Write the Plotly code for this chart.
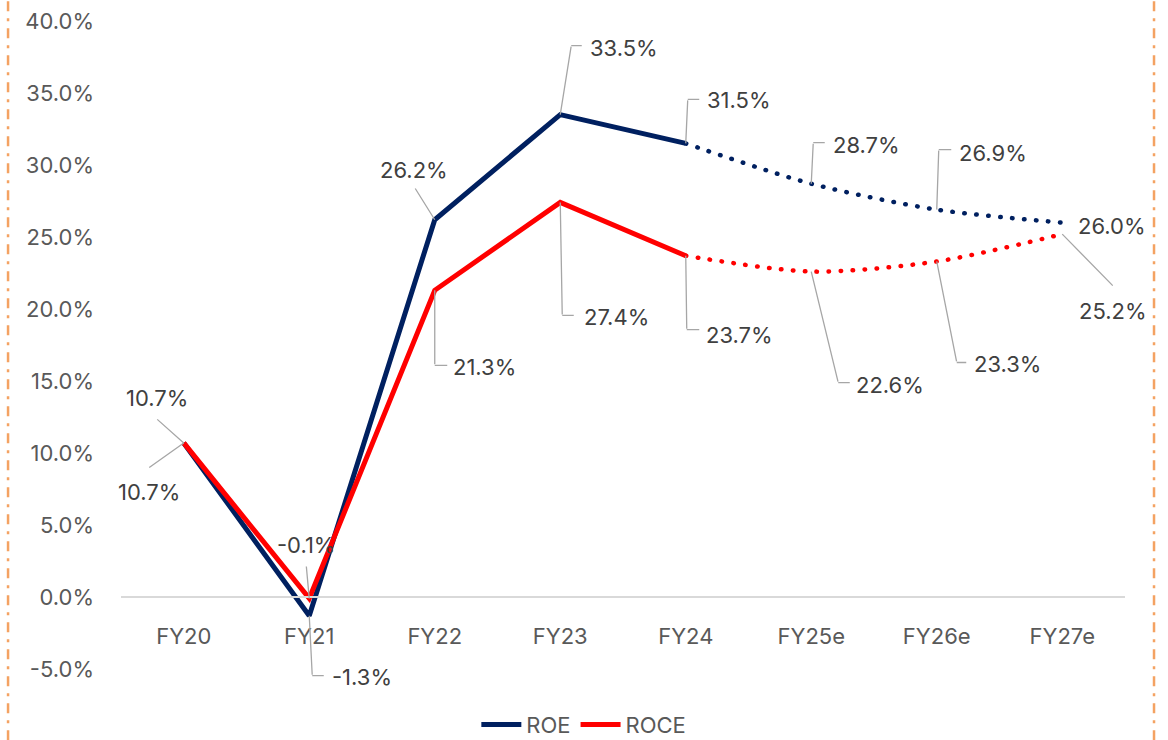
import plotly.graph_objects as go

# ---------------- data ----------------
categories = ["FY20", "FY21", "FY22", "FY23", "FY24", "FY25e", "FY26e", "FY27e"]
roe = [10.7, -1.3, 26.2, 33.5, 31.5, 28.7, 26.9, 26.0]
roce = [10.7, -0.1, 21.3, 27.4, 23.7, 22.6, 23.3, 25.2]
n_actual = 5  # FY20..FY24 are actuals, rest are estimates
y_ticks = [-5, 0, 5, 10, 15, 20, 25, 30, 35, 40]
y_tick_labels = ["-5.0%", "0.0%", "5.0%", "10.0%", "15.0%", "20.0%",
                 "25.0%", "30.0%", "35.0%", "40.0%"]

# ---------------- styles ----------------
NAVY = "#002060"
RED = "#FF0000"
LEADER = "#A6A6A6"
FONT = "Inter"
LABEL_COLOR = "#404040"
TICK_COLOR = "#595959"
FS = 22

# label placement (pixel offsets relative to the data point, screen y downward)
roe_text = [(-27, -45), (53, 61), (-21, -50), (64, -67), (53, -43), (55, -39), (56, -57), (50, 3)]
roe_elbow = [(-27, -24), (3, 60), (-20, -32), (11, -69), (2, -44), (2, -41), (2, -60), None]
roe_end = [None, (15, 60), None, (22, -69), (14, -44), (14, -41), (15, -60), None]

roce_text = [(-35, 49), (-3, -53), (50, 77), (56, 115), (54, 79), (79, 113), (71, 103), (51, 77)]
roce_elbow = [(-35, 25), (-3, -33), (0, 75), (2, 113), (1, 74), (27, 111), (20, 101), (51, 52)]
roce_end = [None, None, (13, 75), (14, 113), (14, 74), (39, 111), (30, 101), None]

fig = go.Figure()

series = [("ROE", roe, NAVY), ("ROCE", roce, RED)]
for name, vals, col in series:
    fig.add_trace(go.Scatter(
        x=categories[:n_actual], y=vals[:n_actual], name=name, mode="lines",
        line=dict(color=col, width=5), showlegend=True, hoverinfo="skip"))
    fig.add_trace(go.Scatter(
        x=categories[n_actual - 1:], y=vals[n_actual - 1:], name=name, mode="lines",
        line=dict(color=col, width=4.5, dash="0.5px,11.5px", shape="spline", smoothing=0.8),
        showlegend=False, hoverinfo="skip"))

annotations = []
for vals, t_off, e_off, h_off in [(roe, roe_text, roe_elbow, roe_end),
                                  (roce, roce_text, roce_elbow, roce_end)]:
    for i, (c, v) in enumerate(zip(categories, vals)):
        if e_off[i] is not None:
            ex, ey = e_off[i]
            annotations.append(dict(
                x=c, y=v, xref="x", yref="y", text=" ", font=dict(size=1),
                showarrow=True, arrowhead=0, arrowwidth=1.3, arrowcolor=LEADER,
                ax=ex, ay=ey, standoff=0, startstandoff=0, borderpad=0))
            if h_off[i] is not None:
                hx, hy = h_off[i]
                annotations.append(dict(
                    x=c, y=v, xref="x", yref="y", text=" ", font=dict(size=1),
                    xshift=ex, yshift=-ey,
                    showarrow=True, arrowhead=0, arrowwidth=1.3, arrowcolor=LEADER,
                    ax=hx - ex, ay=hy - ey, standoff=0, startstandoff=0, borderpad=0))
        tx, ty = t_off[i]
        annotations.append(dict(
            x=c, y=v, xref="x", yref="y", text=f"{v:.1f}%",
            xshift=tx, yshift=-ty, showarrow=False,
            xanchor="center", yanchor="middle",
            font=dict(family=FONT, size=FS, color=LABEL_COLOR)))

# orange dash-dot frame lines on left and right
shapes = []
for xp in (-0.1125, 1.0289):
    shapes.append(dict(type="line", xref="paper", yref="paper",
                       x0=xp, x1=xp, y0=-0.11, y1=1.033,
                       line=dict(color="#F4A262", width=2.5, dash="10px,7px,3px,7px")))

fig.update_layout(
    width=1168, height=740,
    margin=dict(l=121, r=43, t=21, b=71, autoexpand=False),
    paper_bgcolor="white", plot_bgcolor="white",
    font=dict(family=FONT, size=FS, color=TICK_COLOR),
    annotations=annotations, shapes=shapes,
    legend=dict(orientation="h", x=0.461, xanchor="center", y=-0.086, yanchor="middle",
                font=dict(family=FONT, size=FS, color=TICK_COLOR),
                itemwidth=40, bgcolor="rgba(0,0,0,0)"),
    xaxis=dict(type="category", categoryorder="array", categoryarray=categories,
               range=[-0.5, 7.5], anchor="free", position=5 / 45,
               showline=True, linecolor="#D9D9D9", linewidth=1.5,
               showgrid=False, zeroline=False, ticks="",
               ticklabelstandoff=20,
               tickfont=dict(family=FONT, size=FS, color=TICK_COLOR)),
    yaxis=dict(range=[-5, 40], tickvals=y_ticks, ticktext=y_tick_labels,
               showgrid=False, zeroline=False, showline=False, ticks="",
               ticklabelstandoff=26,
               tickfont=dict(family=FONT, size=FS, color=TICK_COLOR)),
)

post = """
document.body.style.margin = '0';
document.body.style.overflow = 'hidden';
document.querySelectorAll('.scatterlayer .js-line').forEach(function(p){
  var d = p.style.strokeDasharray;
  if (d && d !== 'none' && d !== '') { p.style.strokeLinecap = 'round'; }
});
"""

fig.write_html("out.html", post_script=post, config={"displayModeBar": False})
